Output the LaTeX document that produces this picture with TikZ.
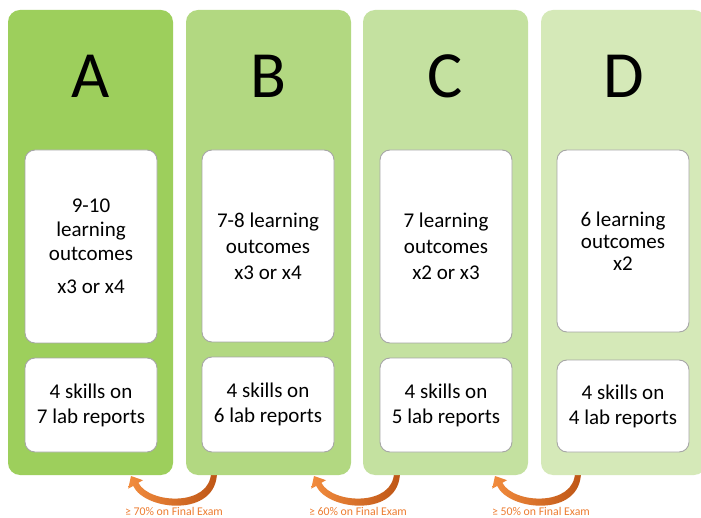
\documentclass[tikz,border=0pt]{standalone}
\usepackage{fontspec}
\setmainfont{Carlito}
\definecolor{cA}{HTML}{9DCF5C}
\definecolor{cB}{HTML}{B2D881}
\definecolor{cC}{HTML}{C4E1A0}
\definecolor{cD}{HTML}{D5E9B8}
\definecolor{orL}{HTML}{F28C3E}
\definecolor{orD}{HTML}{BE5616}
\definecolor{orT}{HTML}{ED7D31}
\definecolor{boxline}{HTML}{A6A6A6}
\begin{document}
\begin{tikzpicture}[x=1pt,y=-1pt,
  column/.style={rounded corners=12pt, minimum width=165pt, minimum height=465pt, inner sep=0pt, draw=none},
  letter/.style={font=\fontsize{66}{70}\selectfont, anchor=base, inner sep=0pt},
  topbox/.style={draw=boxline, line width=0.9pt, fill=white, rounded corners=10pt, minimum width=132pt, align=center, inner sep=0pt, font=\fontsize{21}{24}\selectfont},
  botbox/.style={draw=boxline, line width=0.9pt, fill=white, rounded corners=10pt, minimum width=132pt, align=center, inner sep=0pt, font=\fontsize{21}{25}\selectfont},
  examlabel/.style={font=\fontsize{11.8}{13}\selectfont, text=orT, inner sep=0pt},
  curvarrow/.style={left color=orL, right color=orD}
]
\useasboundingbox (0,0) rectangle (701,518);
\clip (0,0) rectangle (701,518);
\fill[white] (0,0) rectangle (701,518);

% curved arrows (drawn first so the tails start under the columns)
\coordinate (tip1) at (131,476);
\coordinate (tip2) at (314,476);
\coordinate (tip3) at (495,476);
\foreach \t in {tip1,tip2,tip3}{
  \shade[curvarrow, shift={(\t)}]
    (0,0) -- (12,4.2) -- (7.4,6.8)
    .. controls (18,28) and (80,31) .. (80,-4)
    -- (86,-4)
    .. controls (86,42) and (14,35) .. (2.2,10)
    -- (-2.8,12.6) -- cycle;
}

% columns
\node[column, fill=cA] (colA) at (90.5,242.5) {};
\node[column, fill=cB] (colB) at (268.5,242.5) {};
\node[column, fill=cC] (colC) at (445.5,242.5) {};
\node[column, fill=cD] (colD) at (623.5,242.5) {};

% letters
\node[letter] (letA) at (90.5,98) {A};
\node[letter] (letB) at (268.5,98) {B};
\node[letter] (letC) at (445.5,98) {C};
\node[letter] (letD) at (623.5,98) {D};

% top boxes
\node[topbox, minimum height=193pt] (topA) at (91,246.5) {9-10\\learning\\outcomes\\[9pt]x3 or x4};
\node[topbox, minimum height=192pt, font=\fontsize{21}{26}\selectfont] (topB) at (268,246) {7-8 learning\\outcomes\\x3 or x4};
\node[topbox, minimum height=193pt, font=\fontsize{21}{26}\selectfont] (topC) at (446,246.5) {7 learning\\outcomes\\x2 or x3};
\node[topbox, minimum height=182pt, font=\fontsize{21}{22}\selectfont] (topD) at (623,241) {6 learning\\outcomes\\x2};

% bottom boxes
\node[botbox, minimum height=94pt] (botA) at (91,405) {4 skills on\\7 lab reports};
\node[botbox, minimum height=95pt] (botB) at (268,404.5) {4 skills on\\6 lab reports};
\node[botbox, minimum height=94pt] (botC) at (446,405) {4 skills on\\5 lab reports};
\node[botbox, minimum height=92pt] (botD) at (623,406) {4 skills on\\4 lab reports};

% exam labels
\node[examlabel] (ex1) at (174,511) {≥ 70\% on Final Exam};
\node[examlabel] (ex2) at (358,511) {≥ 60\% on Final Exam};
\node[examlabel] (ex3) at (541,511) {≥ 50\% on Final Exam};
\end{tikzpicture}
\end{document}
